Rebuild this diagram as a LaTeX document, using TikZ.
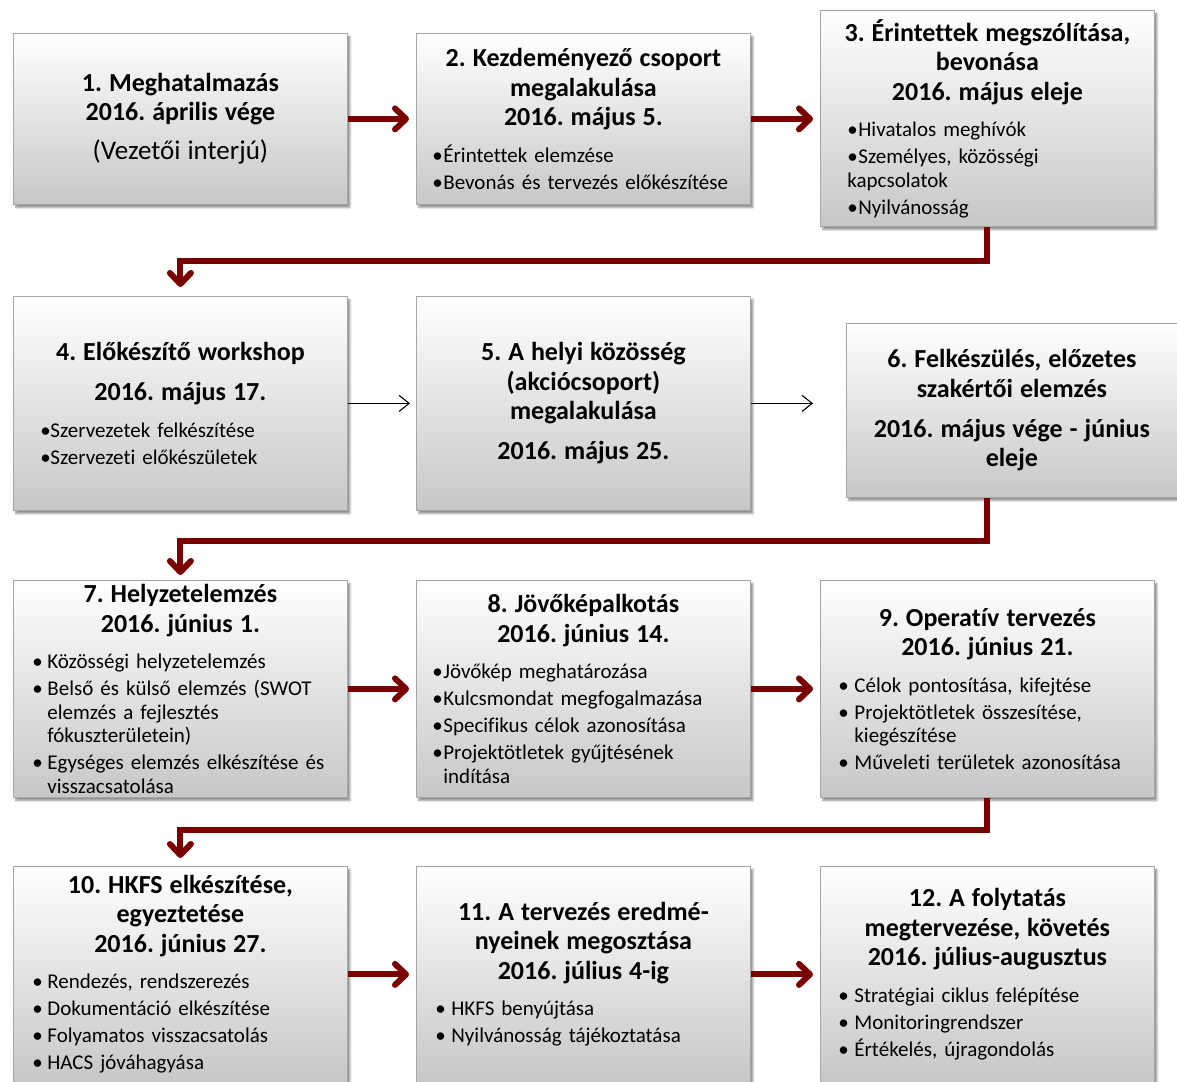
\documentclass[tikz,border=0pt]{standalone}
\usepackage{fontspec}
\setmainfont{Carlito}[Ligatures={TeX,NoCommon}]
\usetikzlibrary{arrows.meta}
\usetikzlibrary{shadows.blur}
\definecolor{flowred}{RGB}{122,0,0}
\setlength{\parindent}{0pt}
\frenchspacing
\newlength\bulx
\newlength\txtx
\newlength\hng
\newcommand{\bstyle}[3]{\setlength\bulx{#1}\setlength\txtx{#2}\setlength\hng{#3}}
\newcommand{\ttl}[1]{{\centering\bfseries\fontsize{26}{29.5}\selectfont #1\par}}
\newcommand{\tgap}{\vspace{9.5pt}}
\newcommand{\itm}[1]{\par\vspace{3.5pt}{\leftskip=\bulx\hangindent=\hng\hangafter=1
   \noindent\makebox[\dimexpr\txtx-\bulx\relax][l]{\textbullet}#1\par}}
\tikzset{
   stage/.style={
      draw=black!35, line width=0.8pt,
      top color=white, bottom color=black!22,
      blur shadow={shadow xshift=2.5pt, shadow yshift=-3pt, shadow blur steps=8,
         shadow blur extra rounding=0pt, shadow opacity=45},
      anchor=north west, inner xsep=0pt, inner ysep=0pt,
      text width=334pt, minimum width=334pt, align=left,
      font=\fontsize{21}{23.5}\selectfont},
   flow/.style={draw=flowred, line width=6pt, shorten >=7pt,
      -{Straight Barb[length=11pt,width=21pt,round]}},
   thinflow/.style={draw=black, line width=1.1pt,
      -{Straight Barb[length=10pt,width=16pt]}},
}
\begin{document}
\begin{tikzpicture}[x=1pt,y=-1pt]
            \useasboundingbox (0,0) rectangle (1177,1081);
            \node[stage, minimum height=171pt] (b1) at (13,33)
               {\ttl{1. Meghatalmazás\\2016. április vége}\vspace{10pt}
                {\centering\fontsize{27}{29}\selectfont (Vezetői interjú)\par}};
            \node[stage, minimum height=171pt] (b2) at (416,33)
               {\ttl{2. Kezdeményező csoport\\megalakulása\\2016. május 5.}\tgap
                \bstyle{16pt}{27pt}{11pt}
                \itm{Érintettek elemzése}
                \itm{Bevonás és tervezés előkészítése}};
            \node[stage, minimum height=216pt] (b3) at (820,10)
               {\ttl{3. Érintettek megszólítása,\\bevonása\\2016. május eleje}\tgap
                \bstyle{27pt}{38pt}{0pt}
                \itm{Hivatalos meghívók}
                \itm{Személyes, közösségi\newline kapcsolatok}
                \itm{Nyilvánosság}};
            \node[stage, minimum height=214pt] (b4) at (13,296)
               {\ttl{4. Előkészítő workshop}\vspace{10.5pt}
                \ttl{2016. május 17.}\tgap
                \bstyle{27pt}{37pt}{10pt}
                \itm{Szervezetek felkészítése}
                \itm{Szervezeti előkészületek}};
            \node[stage, minimum height=214pt] (b5) at (416,296)
               {\ttl{5. A helyi közösség\\(akciócsoport)\\megalakulása}\vspace{10.5pt}
                \ttl{2016. május 25.}};
            \node[stage, text width=331pt, minimum width=331pt, minimum height=174pt] (b6) at (846,323)
               {\ttl{6. Felkészülés, előzetes\\szakértői elemzés}\vspace{10.5pt}
                \ttl{2016. május vége - június\\eleje}};
            \node[stage, minimum height=217pt] (b7) at (13,580)
               {\ttl{7. Helyzetelemzés\\2016. június 1.}\tgap
                \bstyle{19pt}{34pt}{15pt}
                \itm{Közösségi helyzetelemzés}
                \itm{Belső és külső elemzés (SWOT\newline elemzés a fejlesztés\newline fókuszterületein)}
                \itm{Egységes elemzés elkészítése és\newline visszacsatolása}};
            \node[stage, minimum height=217pt] (b8) at (416,580)
               {\ttl{8. Jövőképalkotás\\2016. június 14.}\tgap
                \bstyle{16pt}{27pt}{11pt}
                \itm{Jövőkép meghatározása}
                \itm{Kulcsmondat megfogalmazása}
                \itm{Specifikus célok azonosítása}
                \itm{Projektötletek gyűjtésének\newline indítása}};
            \node[stage, minimum height=217pt] (b9) at (820,580)
               {\ttl{9. Operatív tervezés\\2016. június 21.}\tgap
                \bstyle{18pt}{34pt}{16pt}
                \itm{Célok pontosítása, kifejtése}
                \itm{Projektötletek összesítése,\newline kiegészítése}
                \itm{Műveleti területek azonosítása}};
            \node[stage, minimum height=216pt] (b10) at (13,866)
               {\ttl{10. HKFS elkészítése,\\egyeztetése\\2016. június 27.}\tgap
                \bstyle{19pt}{34pt}{15pt}
                \itm{Rendezés, rendszerezés}
                \itm{Dokumentáció elkészítése}
                \itm{Folyamatos visszacsatolás}
                \itm{HACS jóváhagyása}};
            \node[stage, minimum height=216pt] (b11) at (416,866)
               {\ttl{11. A tervezés eredmé-\\nyeinek megosztása\\2016. július 4-ig}\tgap
                \bstyle{19pt}{35pt}{16pt}
                \itm{HKFS benyújtása}
                \itm{Nyilvánosság tájékoztatása}};
            \node[stage, minimum height=216pt] (b12) at (820,866)
               {\ttl{12. A folytatás\\megtervezése, követés\\2016. július-augusztus}\tgap
                \bstyle{18pt}{34pt}{16pt}
                \itm{Stratégiai ciklus felépítése}
                \itm{Monitoringrendszer}
                \itm{Értékelés, újragondolás}};
            \draw[flow] (b1.east) -- (b1.east -| b2.west);
            \draw[flow] (b2.east) -- (b2.east -| b3.west);
            \draw[flow, shorten >=9pt] (b3.south) -- ++(0,34) -| (b4.north);
            \draw[thinflow, shorten >=6pt] (b4.east) -- (b4.east -| b5.west);
            \draw[thinflow, shorten >=33pt] (b5.east) -- (b5.east -| b6.west);
            \draw[flow, shorten >=5pt] (b3.south |- b6.south) -- ++(0,43) -| (b7.north);
            \draw[flow] (b7.east) -- (b7.east -| b8.west);
            \draw[flow] (b8.east) -- (b8.east -| b9.west);
            \draw[flow, shorten >=8pt] (b9.south) -- ++(0,32) -| (b10.north);
            \draw[flow] (b10.east) -- (b10.east -| b11.west);
            \draw[flow] (b11.east) -- (b11.east -| b12.west);
        \end{tikzpicture}
\end{document}
